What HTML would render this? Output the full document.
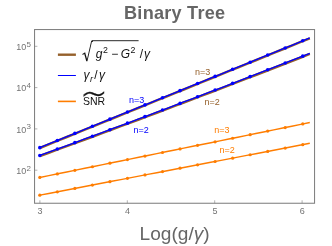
<!DOCTYPE html>
<html><head><meta charset="utf-8"><title>Binary Tree</title>
<style>
html,body{margin:0;padding:0;background:#fff;}
svg{display:block;font-family:"Liberation Sans",sans-serif;will-change:transform;}
</style></head><body>
<svg width="332" height="246" viewBox="0 0 332 246">
<rect x="0" y="0" width="332" height="246" fill="#fff"/>
<polyline points="39.80,147.99 48.80,144.33 57.80,140.68 66.80,137.02 75.80,133.36 84.80,129.71 93.80,126.05 102.80,122.39 111.80,118.74 120.80,115.08 129.80,111.43 138.80,107.77 147.80,104.11 156.80,100.46 165.80,96.80 174.80,93.14 183.80,89.49 192.80,85.83 201.80,82.17 210.80,78.52 219.80,74.86 228.80,71.20 237.80,67.55 246.80,63.89 255.80,60.24 264.80,56.58 273.80,52.92 282.80,49.27 291.80,45.61 300.80,41.95 309.80,38.30" fill="none" stroke="#95602b" stroke-width="2.5"/>
<polyline points="39.80,156.02 48.80,152.74 57.80,149.45 66.80,146.15 75.80,142.85 84.80,139.53 93.80,136.21 102.80,132.88 111.80,129.54 120.80,126.19 129.80,122.83 138.80,119.47 147.80,116.10 156.80,112.72 165.80,109.33 174.80,105.93 183.80,102.52 192.80,99.11 201.80,95.68 210.80,92.25 219.80,88.81 228.80,85.37 237.80,81.91 246.80,78.44 255.80,74.97 264.80,71.49 273.80,68.00 282.80,64.50 291.80,61.00 300.80,57.48 309.80,53.96" fill="none" stroke="#95602b" stroke-width="2.5"/>
<polyline points="39.80,147.64 48.80,143.98 57.80,140.33 66.80,136.67 75.80,133.01 84.80,129.36 93.80,125.70 102.80,122.04 111.80,118.39 120.80,114.73 129.80,111.08 138.80,107.42 147.80,103.76 156.80,100.11 165.80,96.45 174.80,92.79 183.80,89.14 192.80,85.48 201.80,81.82 210.80,78.17 219.80,74.51 228.80,70.85 237.80,67.20 246.80,63.54 255.80,59.89 264.80,56.23 273.80,52.57 282.80,48.92 291.80,45.26 300.80,41.60 309.80,37.95" fill="none" stroke="#0000ff" stroke-width="1.35"/>
<polyline points="39.80,155.47 48.80,152.19 57.80,148.90 66.80,145.60 75.80,142.30 84.80,138.98 93.80,135.66 102.80,132.33 111.80,128.99 120.80,125.64 129.80,122.28 138.80,118.92 147.80,115.55 156.80,112.17 165.80,108.78 174.80,105.38 183.80,101.97 192.80,98.56 201.80,95.13 210.80,91.70 219.80,88.26 228.80,84.82 237.80,81.36 246.80,77.89 255.80,74.42 264.80,70.94 273.80,67.45 282.80,63.95 291.80,60.45 300.80,56.93 309.80,53.41" fill="none" stroke="#0000ff" stroke-width="1.35"/>
<circle cx="39.80" cy="147.64" r="1.8" fill="#0000ff"/><circle cx="57.33" cy="140.52" r="1.8" fill="#0000ff"/><circle cx="74.86" cy="133.40" r="1.8" fill="#0000ff"/><circle cx="92.39" cy="126.27" r="1.8" fill="#0000ff"/><circle cx="109.92" cy="119.15" r="1.8" fill="#0000ff"/><circle cx="127.45" cy="112.03" r="1.8" fill="#0000ff"/><circle cx="144.98" cy="104.91" r="1.8" fill="#0000ff"/><circle cx="162.51" cy="97.79" r="1.8" fill="#0000ff"/><circle cx="180.04" cy="90.66" r="1.8" fill="#0000ff"/><circle cx="197.57" cy="83.54" r="1.8" fill="#0000ff"/><circle cx="215.10" cy="76.42" r="1.8" fill="#0000ff"/><circle cx="232.63" cy="69.30" r="1.8" fill="#0000ff"/><circle cx="250.16" cy="62.18" r="1.8" fill="#0000ff"/><circle cx="267.69" cy="55.06" r="1.8" fill="#0000ff"/><circle cx="285.22" cy="47.93" r="1.8" fill="#0000ff"/><circle cx="302.75" cy="40.81" r="1.8" fill="#0000ff"/>
<circle cx="39.80" cy="155.47" r="1.8" fill="#0000ff"/><circle cx="57.33" cy="149.07" r="1.8" fill="#0000ff"/><circle cx="74.86" cy="142.64" r="1.8" fill="#0000ff"/><circle cx="92.39" cy="136.18" r="1.8" fill="#0000ff"/><circle cx="109.92" cy="129.69" r="1.8" fill="#0000ff"/><circle cx="127.45" cy="123.16" r="1.8" fill="#0000ff"/><circle cx="144.98" cy="116.60" r="1.8" fill="#0000ff"/><circle cx="162.51" cy="110.02" r="1.8" fill="#0000ff"/><circle cx="180.04" cy="103.40" r="1.8" fill="#0000ff"/><circle cx="197.57" cy="96.74" r="1.8" fill="#0000ff"/><circle cx="215.10" cy="90.06" r="1.8" fill="#0000ff"/><circle cx="232.63" cy="83.35" r="1.8" fill="#0000ff"/><circle cx="250.16" cy="76.60" r="1.8" fill="#0000ff"/><circle cx="267.69" cy="69.82" r="1.8" fill="#0000ff"/><circle cx="285.22" cy="63.01" r="1.8" fill="#0000ff"/><circle cx="302.75" cy="56.17" r="1.8" fill="#0000ff"/>
<polyline points="39.80,177.45 48.80,175.62 57.80,173.79 66.80,171.96 75.80,170.13 84.80,168.30 93.80,166.47 102.80,164.64 111.80,162.81 120.80,160.97 129.80,159.14 138.80,157.31 147.80,155.48 156.80,153.65 165.80,151.82 174.80,149.99 183.80,148.16 192.80,146.33 201.80,144.50 210.80,142.67 219.80,140.84 228.80,139.01 237.80,137.18 246.80,135.35 255.80,133.52 264.80,131.69 273.80,129.85 282.80,128.02 291.80,126.19 300.80,124.36 309.80,122.53" fill="none" stroke="#ff7d00" stroke-width="1.45"/>
<polyline points="39.80,195.15 48.80,193.42 57.80,191.69 66.80,189.97 75.80,188.24 84.80,186.51 93.80,184.78 102.80,183.05 111.80,181.33 120.80,179.60 129.80,177.87 138.80,176.14 147.80,174.41 156.80,172.69 165.80,170.96 174.80,169.23 183.80,167.50 192.80,165.77 201.80,164.05 210.80,162.32 219.80,160.59 228.80,158.86 237.80,157.13 246.80,155.41 255.80,153.68 264.80,151.95 273.80,150.22 282.80,148.49 291.80,146.77 300.80,145.04 309.80,143.31" fill="none" stroke="#ff7d00" stroke-width="1.45"/>
<circle cx="39.80" cy="177.45" r="1.6" fill="#ff7d00"/><circle cx="57.33" cy="173.88" r="1.6" fill="#ff7d00"/><circle cx="74.86" cy="170.32" r="1.6" fill="#ff7d00"/><circle cx="92.39" cy="166.75" r="1.6" fill="#ff7d00"/><circle cx="109.92" cy="163.19" r="1.6" fill="#ff7d00"/><circle cx="127.45" cy="159.62" r="1.6" fill="#ff7d00"/><circle cx="144.98" cy="156.06" r="1.6" fill="#ff7d00"/><circle cx="162.51" cy="152.49" r="1.6" fill="#ff7d00"/><circle cx="180.04" cy="148.93" r="1.6" fill="#ff7d00"/><circle cx="197.57" cy="145.36" r="1.6" fill="#ff7d00"/><circle cx="215.10" cy="141.79" r="1.6" fill="#ff7d00"/><circle cx="232.63" cy="138.23" r="1.6" fill="#ff7d00"/><circle cx="250.16" cy="134.66" r="1.6" fill="#ff7d00"/><circle cx="267.69" cy="131.10" r="1.6" fill="#ff7d00"/><circle cx="285.22" cy="127.53" r="1.6" fill="#ff7d00"/><circle cx="302.75" cy="123.97" r="1.6" fill="#ff7d00"/>
<circle cx="39.80" cy="195.15" r="1.6" fill="#ff7d00"/><circle cx="57.33" cy="191.78" r="1.6" fill="#ff7d00"/><circle cx="74.86" cy="188.42" r="1.6" fill="#ff7d00"/><circle cx="92.39" cy="185.05" r="1.6" fill="#ff7d00"/><circle cx="109.92" cy="181.69" r="1.6" fill="#ff7d00"/><circle cx="127.45" cy="178.32" r="1.6" fill="#ff7d00"/><circle cx="144.98" cy="174.96" r="1.6" fill="#ff7d00"/><circle cx="162.51" cy="171.59" r="1.6" fill="#ff7d00"/><circle cx="180.04" cy="168.22" r="1.6" fill="#ff7d00"/><circle cx="197.57" cy="164.86" r="1.6" fill="#ff7d00"/><circle cx="215.10" cy="161.49" r="1.6" fill="#ff7d00"/><circle cx="232.63" cy="158.13" r="1.6" fill="#ff7d00"/><circle cx="250.16" cy="154.76" r="1.6" fill="#ff7d00"/><circle cx="267.69" cy="151.40" r="1.6" fill="#ff7d00"/><circle cx="285.22" cy="148.03" r="1.6" fill="#ff7d00"/><circle cx="302.75" cy="144.66" r="1.6" fill="#ff7d00"/>
<rect x="34.55" y="29.55" width="280.0" height="173.7" fill="none" stroke="#808080" stroke-width="1.05"/>
<line x1="39.9" y1="203.2" x2="39.9" y2="200.3" stroke="#808080" stroke-width="0.6"/>
<text x="40.1" y="214.4" font-size="9" fill="#737373" text-anchor="middle">3</text>
<line x1="127.3" y1="203.2" x2="127.3" y2="200.3" stroke="#808080" stroke-width="0.6"/>
<text x="127.5" y="214.4" font-size="9" fill="#737373" text-anchor="middle">4</text>
<line x1="214.7" y1="203.2" x2="214.7" y2="200.3" stroke="#808080" stroke-width="0.6"/>
<text x="214.9" y="214.4" font-size="9" fill="#737373" text-anchor="middle">5</text>
<line x1="302.1" y1="203.2" x2="302.1" y2="200.3" stroke="#808080" stroke-width="0.6"/>
<text x="302.3" y="214.4" font-size="9" fill="#737373" text-anchor="middle">6</text>
<line x1="34.6" y1="46.3" x2="37.4" y2="46.3" stroke="#808080" stroke-width="0.6"/>
<text x="16.3" y="50.1" font-size="9" fill="#737373">10<tspan font-size="8" dy="-3.3" dx="0.3">5</tspan></text>
<line x1="34.6" y1="87.6" x2="37.4" y2="87.6" stroke="#808080" stroke-width="0.6"/>
<text x="16.3" y="91.4" font-size="9" fill="#737373">10<tspan font-size="8" dy="-3.3" dx="0.3">4</tspan></text>
<line x1="34.6" y1="128.9" x2="37.4" y2="128.9" stroke="#808080" stroke-width="0.6"/>
<text x="16.3" y="132.7" font-size="9" fill="#737373">10<tspan font-size="8" dy="-3.3" dx="0.3">3</tspan></text>
<line x1="34.6" y1="170.2" x2="37.4" y2="170.2" stroke="#808080" stroke-width="0.6"/>
<text x="16.3" y="174.0" font-size="9" fill="#737373">10<tspan font-size="8" dy="-3.3" dx="0.3">2</tspan></text>
<text x="174.7" y="19.1" font-size="18.1" letter-spacing="0.25" font-weight="bold" fill="#666666" text-anchor="middle">Binary Tree</text>
<text x="174.6" y="240.1" font-size="19.1" fill="#666666" text-anchor="middle">Log(g/<tspan font-style="italic">γ</tspan>)</text>
<line x1="57.9" y1="54.7" x2="75.9" y2="54.7" stroke="#95602b" stroke-width="2.4"/>
<line x1="57.9" y1="75.5" x2="75.9" y2="75.5" stroke="#0000ff" stroke-width="1.05"/>
<line x1="57.9" y1="101.4" x2="75.9" y2="101.4" stroke="#ff7d00" stroke-width="1.6"/>
<text transform="translate(80.96,58.6) scale(0.70,1)" font-family="DejaVu Math TeX Gyre, DejaVu Sans, sans-serif" font-size="23.6" fill="#111111">√</text>
<line x1="91.9" y1="40.7" x2="138.6" y2="40.7" stroke="#111111" stroke-width="0.9"/>
<text x="95.8" y="58.2" font-size="12" font-style="italic" fill="#111111">g</text>
<text x="103.1" y="53.300000000000004" font-size="8.8" font-style="normal" fill="#111111">2</text>
<text x="111.3" y="58.2" font-size="12" font-style="normal" fill="#111111">−</text>
<text x="120.8" y="58.2" font-size="12" font-style="italic" fill="#111111">G</text>
<text x="130.4" y="53.300000000000004" font-size="8.8" font-style="normal" fill="#111111">2</text>
<text x="139.8" y="58.2" font-size="12" font-style="normal" fill="#111111">/</text>
<text x="143.9" y="58.2" font-size="12" font-style="italic" fill="#111111">γ</text>
<text x="83.4" y="78.7" font-size="12" font-style="italic" fill="#111111">γ</text>
<text x="89.9" y="82.0" font-size="9" font-style="italic" fill="#111111">r</text>
<text x="94.2" y="78.7" font-size="12" font-style="normal" fill="#111111">/</text>
<text x="99.0" y="78.7" font-size="12" font-style="italic" fill="#111111">γ</text>
<text x="82.9" y="104.9" font-size="10.5" fill="#111111">SNR</text>
<text transform="translate(80.35,105.7) scale(1,1.17)" font-family="DejaVu Sans Light, DejaVu Sans, sans-serif" font-weight="200" font-size="32.5" fill="#111111" stroke="#111111" stroke-width="0.3">~</text>
<text x="136.6" y="102.7" font-size="9" fill="#0000ff" text-anchor="middle">n=3</text>
<text x="141.2" y="132.7" font-size="9" fill="#0000ff" text-anchor="middle">n=2</text>
<text x="202.6" y="75.0" font-size="9" fill="#95602b" text-anchor="middle">n=3</text>
<text x="212.1" y="105.1" font-size="9" fill="#95602b" text-anchor="middle">n=2</text>
<text x="221.9" y="132.5" font-size="9" fill="#ff7d00" text-anchor="middle">n=3</text>
<text x="227.2" y="152.5" font-size="9" fill="#ff7d00" text-anchor="middle">n=2</text>
</svg>
</body></html>
